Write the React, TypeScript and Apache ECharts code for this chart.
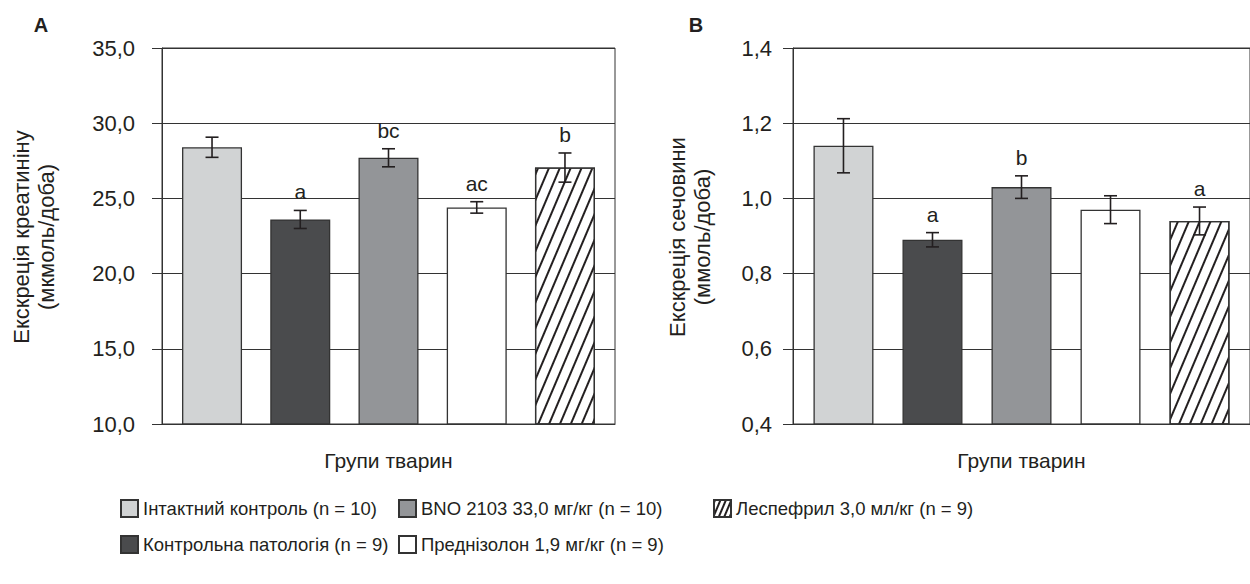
import React, { useEffect, useRef } from 'react';
import * as echarts from 'echarts';

const groups = [
  'Інтактний контроль (n = 10)',
  'Контрольна патологія (n = 9)',
  'BNO 2103 33,0 мг/кг (n = 10)',
  'Преднізолон 1,9 мг/кг (n = 9)',
  'Леспефрил 3,0 мл/кг (n = 9)',
];

const creatinineMean = [28.4, 23.6, 27.7, 24.4, 27.05];
const creatinineErr = [0.67, 0.6, 0.6, 0.38, 0.97];
const creatinineLetters = ['', 'a', 'bc', 'ac', 'b'];

const ureaMean = [1.14, 0.89, 1.03, 0.97, 0.94];
const ureaErr = [0.072, 0.019, 0.03, 0.037, 0.037];
const ureaLetters = ['', 'a', 'b', '', 'a'];

const creatinineAxis = { min: 10, max: 35, interval: 5 };
const ureaAxis = { min: 0.4, max: 1.4, interval: 0.2 };

const FONT = '"Liberation Sans", Arial, Helvetica, sans-serif';
const INK = '#231f20';
const LINE = '#333333';

const hatch = (gap: number) => ({
  symbol: 'rect',
  symbolSize: 1,
  color: INK,
  dashArrayX: [1, 0],
  dashArrayY: [1.1, gap],
  rotation: -1.17,
});

const barStyles: any[] = [
  { color: '#d1d3d4' },
  { color: '#4a4b4d' },
  { color: '#939598' },
  { color: '#ffffff' },
  { color: '#ffffff', decal: hatch(7.6) },
];

const fmt = (v: number, d: number) => v.toFixed(d).replace('.', ',');

function errorSeries(p: number, means: number[], errs: number[], letters: string[]) {
  return {
    type: 'custom',
    xAxisIndex: p,
    yAxisIndex: p,
    z: 10,
    silent: true,
    data: means.map((m, i) => [i, m, errs[i]]),
    renderItem: (params: any, api: any) => {
      const x = api.value(0);
      const m = api.value(1);
      const e = api.value(2);
      const top = api.coord([x, m + e]);
      const bot = api.coord([x, m - e]);
      const hw = 6.5;
      const st = { stroke: INK, lineWidth: 1.6 };
      const children: any[] = [
        { type: 'line', shape: { x1: top[0], y1: top[1], x2: bot[0], y2: bot[1] }, style: st },
        { type: 'line', shape: { x1: top[0] - hw, y1: top[1], x2: top[0] + hw, y2: top[1] }, style: st },
        { type: 'line', shape: { x1: bot[0] - hw, y1: bot[1], x2: bot[0] + hw, y2: bot[1] }, style: st },
      ];
      const letter = letters[params.dataIndex];
      if (letter) {
        children.push({
          type: 'text',
          x: top[0],
          y: top[1] - 8,
          style: {
            text: letter,
            align: 'center',
            verticalAlign: 'bottom',
            textAlign: 'center',
            textVerticalAlign: 'bottom',
            fontSize: 21,
            fontFamily: FONT,
            fill: INK,
          },
        });
      }
      return { type: 'group', children };
    },
  };
}

function barSeries(p: number, means: number[]) {
  return means.map((m, i) => ({
    type: 'bar',
    name: groups[i],
    xAxisIndex: p,
    yAxisIndex: p,
    data: [[i, m]],
    barWidth: 60,
    barGap: '-100%',
    itemStyle: { ...barStyles[i], borderColor: LINE, borderWidth: 1.3 },
  }));
}

function xAxis(p: number) {
  return {
    type: 'value',
    gridIndex: p,
    min: -0.567,
    max: 4.567,
    axisLine: { show: true, onZero: false, lineStyle: { color: LINE, width: 1 } },
    axisTick: { show: false },
    axisLabel: { show: false },
    splitLine: { show: false },
    name: 'Групи тварин',
    nameLocation: 'middle',
    nameGap: 26,
    nameTextStyle: { fontSize: 21, color: INK, fontFamily: FONT, verticalAlign: 'top' },
  };
}

function yAxis(p: number, ax: any, digits: number, margin: number) {
  return {
    type: 'value',
    gridIndex: p,
    min: ax.min,
    max: ax.max,
    interval: ax.interval,
    axisLine: { show: true, onZero: false, lineStyle: { color: LINE, width: 1 } },
    axisTick: { show: true, length: 10, lineStyle: { color: LINE, width: 1 } },
    axisLabel: {
      margin,
      fontSize: 22,
      color: INK,
      fontFamily: FONT,
      formatter: (v: number) => fmt(v, digits),
    },
    splitLine: { show: true, lineStyle: { color: LINE, width: 1 } },
  };
}

function vtext(x: number, y: number, text: string) {
  return {
    type: 'text',
    x,
    y,
    rotation: Math.PI / 2,
    style: {
      text,
      align: 'center',
      verticalAlign: 'middle',
      textAlign: 'center',
      textVerticalAlign: 'middle',
      fontSize: 22,
      fontFamily: FONT,
      fill: INK,
    },
  };
}

function ptext(x: number, y: number, text: string) {
  return {
    type: 'text',
    x,
    y,
    style: {
      text,
      align: 'center',
      verticalAlign: 'middle',
      textAlign: 'center',
      textVerticalAlign: 'middle',
      fontSize: 20,
      fontWeight: 'bold',
      fontFamily: FONT,
      fill: INK,
    },
  };
}

const legendPos = [
  { left: 120, top: 499 },
  { left: 120, top: 535 },
  { left: 398, top: 499 },
  { left: 398, top: 535 },
  { left: 713, top: 499 },
];

export default function App() {
  const ref = useRef<HTMLDivElement>(null);
  useEffect(() => {
    if (!ref.current) return;
    const chart = echarts.init(ref.current, undefined, { renderer: 'svg' });
    const option: any = {
      animation: false,
      backgroundColor: '#ffffff',
      textStyle: { fontFamily: FONT },
      grid: [
        { left: 162, top: 48, right: 635, bottom: 160, show: true, borderColor: LINE, borderWidth: 1, backgroundColor: 'transparent' },
        { left: 793, top: 48, right: -8, bottom: 160, show: true, borderColor: LINE, borderWidth: 1, backgroundColor: 'transparent' },
      ],
      xAxis: [xAxis(0), xAxis(1)],
      yAxis: [yAxis(0, creatinineAxis, 1, 27), yAxis(1, ureaAxis, 1, 21)],
      legend: groups.map((g, i) => ({
        data: [i === 4 ? { name: g, itemStyle: { decal: hatch(2.6) } } : g],
        left: legendPos[i].left,
        top: legendPos[i].top,
        itemWidth: 17,
        itemHeight: 17,
        icon: 'rect',
        selectedMode: false,
        padding: 0,
        textStyle: { fontSize: 18.5, color: INK, fontFamily: FONT },
      })),
      graphic: [
        ptext(41, 25, 'A'),
        ptext(696, 25, 'B'),
        vtext(21, 237, 'Екскреція креатиніну'),
        vtext(46, 237, '(мкмоль/доба)'),
        vtext(677, 237, 'Екскреція сечовини'),
        vtext(702, 237, '(ммоль/доба)'),
      ],
      series: [
        ...barSeries(0, creatinineMean),
        ...barSeries(1, ureaMean),
        errorSeries(0, creatinineMean, creatinineErr, creatinineLetters),
        errorSeries(1, ureaMean, ureaErr, ureaLetters),
      ],
    };
    chart.setOption(option);
    return () => chart.dispose();
  }, []);
  return (
    <div
      ref={ref}
      style={{ position: 'absolute', left: 0, top: 0, width: 1250, height: 584, background: '#fff' }}
    />
  );
}
